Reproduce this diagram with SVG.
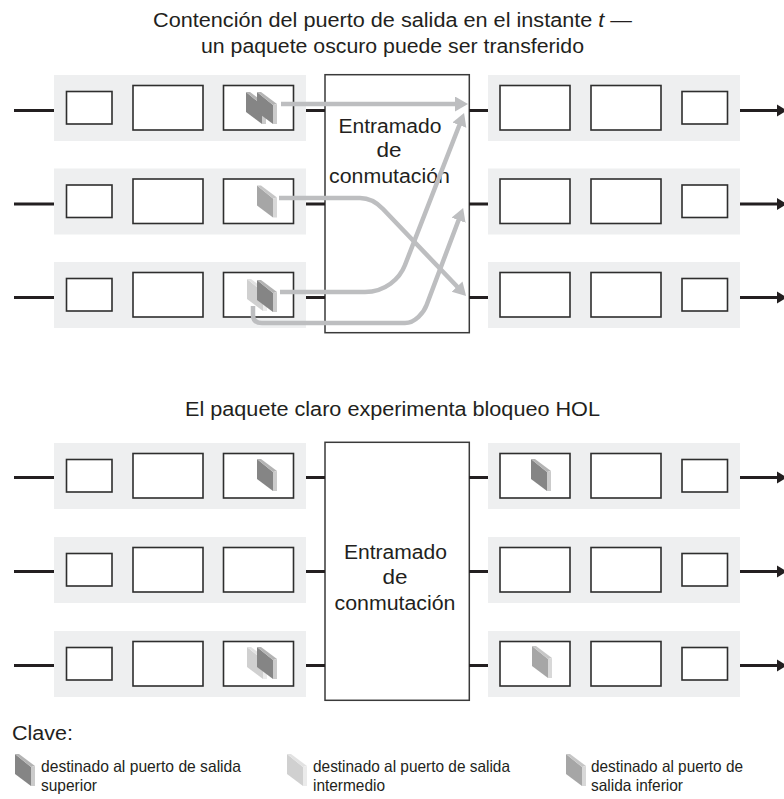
<svg xmlns="http://www.w3.org/2000/svg" width="784" height="799" viewBox="0 0 784 799">
<style>
text{font-family:"Liberation Sans",Arial,sans-serif;fill:#231f20}
.t{font-size:19.5px}
.lg{font-size:16.5px}
.band{fill:#eeeff0}
.box{fill:#fff;stroke:#2e2e2e;stroke-width:1.6}
.fab{fill:#fff;stroke:#3a3a3a;stroke-width:1.5}
.wire{stroke:#231f20;stroke-width:3;fill:none}
.tip{fill:#231f20}
.flow{stroke:#bdbec0;stroke-width:4.5;fill:none;marker-end:url(#ah)}
</style>
<defs>
<marker id="ah" markerUnits="userSpaceOnUse" markerWidth="14" markerHeight="16" refX="1" refY="7.5" orient="auto" viewBox="0 0 14 16">
<path d="M0,0 L13,7.5 L0,15 z" fill="#bdbec0"/>
</marker>
<g id="pk-dark"><polygon points="0,0 16,13 16,32 0,20" fill="#858585"/><polygon points="0,0 4,0 20,12 16,13" fill="#b3b3b3"/><polygon points="16,13 20,12 20,32 16,32" fill="#cbcbcb"/></g>
<g id="pk-med"><polygon points="0,0 16,13 16,32 0,20" fill="#a6a6a6"/><polygon points="0,0 4,0 20,12 16,13" fill="#c6c6c6"/><polygon points="16,13 20,12 20,32 16,32" fill="#d8d8d8"/></g>
<g id="pk-light"><polygon points="0,0 16,13 16,32 0,20" fill="#d0d0d0"/><polygon points="0,0 4,0 20,12 16,13" fill="#e2e2e2"/><polygon points="16,13 20,12 20,32 16,32" fill="#ebebeb"/></g>
</defs>

<g id="titles">
<text class="t" x="392.5" y="27" text-anchor="middle" textLength="479" lengthAdjust="spacingAndGlyphs">Contención del puerto de salida en el instante <tspan font-style="italic">t</tspan> —</text>
<text class="t" x="392.5" y="53" text-anchor="middle" textLength="383" lengthAdjust="spacingAndGlyphs">un paquete oscuro puede ser transferido</text>
<text class="t" x="392.5" y="416" text-anchor="middle" textLength="415" lengthAdjust="spacingAndGlyphs">El paquete claro experimenta bloqueo HOL</text>
</g>

<!-- top section inputs -->
<g id="in-a1" transform="translate(0,75)">
<rect class="band" x="54" y="0" width="252" height="66"/>
<rect class="box" x="66.5" y="16.5" width="45.5" height="32.5"/>
<rect class="box" x="133" y="10.5" width="70" height="44.5"/>
<rect class="box" x="223.5" y="10.5" width="70" height="44.5"/>
<use href="#pk-dark" x="246" y="17"/>
<use href="#pk-dark" x="257" y="17"/>
</g>
<g id="in-a2" transform="translate(0,168.5)">
<rect class="band" x="54" y="0" width="252" height="66"/>
<rect class="box" x="66.5" y="16.5" width="45.5" height="32.5"/>
<rect class="box" x="133" y="10.5" width="70" height="44.5"/>
<rect class="box" x="223.5" y="10.5" width="70" height="44.5"/>
<use href="#pk-med" x="257" y="17"/>
</g>
<g id="in-a3" transform="translate(0,262)">
<rect class="band" x="54" y="0" width="252" height="66"/>
<rect class="box" x="66.5" y="16.5" width="45.5" height="32.5"/>
<rect class="box" x="133" y="10.5" width="70" height="44.5"/>
<rect class="box" x="223.5" y="10.5" width="70" height="44.5"/>
<use href="#pk-light" x="247" y="17"/>
<use href="#pk-dark" x="257" y="18"/>
</g>
<g id="fabric-a">
<rect class="fab" x="325" y="74.7" width="144.3" height="258"/>
<text class="t" x="390" y="132.7" text-anchor="middle" textLength="103" lengthAdjust="spacingAndGlyphs">Entramado</text>
<text class="t" x="389" y="157" text-anchor="middle" textLength="25" lengthAdjust="spacingAndGlyphs">de</text>
<text class="t" x="389.5" y="183" text-anchor="middle" textLength="121" lengthAdjust="spacingAndGlyphs">conmutación</text>
</g>
<g id="out-a1" transform="translate(0,75)">
<rect class="band" x="488" y="0" width="252" height="66"/>
<rect class="box" x="500" y="10.5" width="70" height="44.5"/>
<rect class="box" x="591" y="10.5" width="70" height="44.5"/>
<rect class="box" x="682" y="16.5" width="45.5" height="32.5"/>
</g>
<g id="out-a2" transform="translate(0,168.5)">
<rect class="band" x="488" y="0" width="252" height="66"/>
<rect class="box" x="500" y="10.5" width="70" height="44.5"/>
<rect class="box" x="591" y="10.5" width="70" height="44.5"/>
<rect class="box" x="682" y="16.5" width="45.5" height="32.5"/>
</g>
<g id="out-a3" transform="translate(0,262)">
<rect class="band" x="488" y="0" width="252" height="66"/>
<rect class="box" x="500" y="10.5" width="70" height="44.5"/>
<rect class="box" x="591" y="10.5" width="70" height="44.5"/>
<rect class="box" x="682" y="16.5" width="45.5" height="32.5"/>
</g>

<!-- bottom section -->
<g id="in-b1" transform="translate(0,443)">
<rect class="band" x="54" y="0" width="252" height="66"/>
<rect class="box" x="66.5" y="16.5" width="45.5" height="32.5"/>
<rect class="box" x="133" y="10.5" width="70" height="44.5"/>
<rect class="box" x="223.5" y="10.5" width="70" height="44.5"/>
<use href="#pk-dark" x="257" y="16"/>
</g>
<g id="in-b2" transform="translate(0,537)">
<rect class="band" x="54" y="0" width="252" height="66"/>
<rect class="box" x="66.5" y="16.5" width="45.5" height="32.5"/>
<rect class="box" x="133" y="10.5" width="70" height="44.5"/>
<rect class="box" x="223.5" y="10.5" width="70" height="44.5"/>
</g>
<g id="in-b3" transform="translate(0,631)">
<rect class="band" x="54" y="0" width="252" height="66"/>
<rect class="box" x="66.5" y="16.5" width="45.5" height="32.5"/>
<rect class="box" x="133" y="10.5" width="70" height="44.5"/>
<rect class="box" x="223.5" y="10.5" width="70" height="44.5"/>
<use href="#pk-light" x="247" y="16"/>
<use href="#pk-dark" x="257" y="16"/>
</g>
<g id="fabric-b">
<rect class="fab" x="325" y="442.3" width="144.3" height="258"/>
<text class="t" x="395.5" y="559.3" text-anchor="middle" textLength="103" lengthAdjust="spacingAndGlyphs">Entramado</text>
<text class="t" x="395" y="584.3" text-anchor="middle" textLength="25" lengthAdjust="spacingAndGlyphs">de</text>
<text class="t" x="395" y="610" text-anchor="middle" textLength="121" lengthAdjust="spacingAndGlyphs">conmutación</text>
</g>
<g id="out-b1" transform="translate(0,443)">
<rect class="band" x="488" y="0" width="252" height="66"/>
<rect class="box" x="500" y="10.5" width="70" height="44.5"/>
<rect class="box" x="591" y="10.5" width="70" height="44.5"/>
<rect class="box" x="682" y="16.5" width="45.5" height="32.5"/>
<use href="#pk-dark" x="531" y="16"/>
</g>
<g id="out-b2" transform="translate(0,537)">
<rect class="band" x="488" y="0" width="252" height="66"/>
<rect class="box" x="500" y="10.5" width="70" height="44.5"/>
<rect class="box" x="591" y="10.5" width="70" height="44.5"/>
<rect class="box" x="682" y="16.5" width="45.5" height="32.5"/>
</g>
<g id="out-b3" transform="translate(0,631)">
<rect class="band" x="488" y="0" width="252" height="66"/>
<rect class="box" x="500" y="10.5" width="70" height="44.5"/>
<rect class="box" x="591" y="10.5" width="70" height="44.5"/>
<rect class="box" x="682" y="16.5" width="45.5" height="32.5"/>
<use href="#pk-med" x="532" y="15"/>
</g>

<g id="connectors">
<path class="wire" d="M14 110.5H54M306 110.5H325M469 110.5H488M740 110.5H779"/>
<path class="wire" d="M14 204H54M306 204H325M469 204H488M740 204H779"/>
<path class="wire" d="M14 297.5H54M306 297.5H325M469 297.5H488M740 297.5H779"/>
<path class="wire" d="M14 477.5H54M306 477.5H325M469 477.5H488M740 477.5H779"/>
<path class="wire" d="M14 571.5H54M306 571.5H325M469 571.5H488M740 571.5H779"/>
<path class="wire" d="M14 665.5H54M306 665.5H325M469 665.5H488M740 665.5H779"/>
<polygon class="tip" points="777,104.5 787,110.5 777,116.5"/>
<polygon class="tip" points="777,198 787,204 777,210"/>
<polygon class="tip" points="777,291.5 787,297.5 777,303.5"/>
<polygon class="tip" points="777,471.5 787,477.5 777,483.5"/>
<polygon class="tip" points="777,565.5 787,571.5 777,577.5"/>
<polygon class="tip" points="777,659.5 787,665.5 777,671.5"/>
<path class="flow" d="M281 104H456"/>
<path class="flow" d="M279 198H360C371 198 377.5 203.2 383 209L457.8 287.3"/>
<path class="flow" d="M280 292H365C385 292 399.6 279 405 265L459.7 124.2"/>
<path class="flow" d="M253 306V315Q253 323 262 323H405C415 323 423.9 312.5 426.6 305L458.9 219.3"/>
</g>

<g id="legend">
<text class="t" x="12" y="740" textLength="61" lengthAdjust="spacingAndGlyphs">Clave:</text>
<g id="key-top"><use href="#pk-dark" x="15" y="754"/>
<text class="lg" x="41" y="772" textLength="200" lengthAdjust="spacingAndGlyphs">destinado al puerto de salida</text>
<text class="lg" x="41" y="791" textLength="56" lengthAdjust="spacingAndGlyphs">superior</text></g>
<g id="key-mid"><use href="#pk-light" x="287" y="754"/>
<text class="lg" x="313" y="772" textLength="197" lengthAdjust="spacingAndGlyphs">destinado al puerto de salida</text>
<text class="lg" x="313" y="791" textLength="72" lengthAdjust="spacingAndGlyphs">intermedio</text></g>
<g id="key-low"><use href="#pk-med" x="566" y="754"/>
<text class="lg" x="591" y="772" textLength="152" lengthAdjust="spacingAndGlyphs">destinado al puerto de</text>
<text class="lg" x="591" y="791" textLength="92" lengthAdjust="spacingAndGlyphs">salida inferior</text></g>
</g>
</svg>
